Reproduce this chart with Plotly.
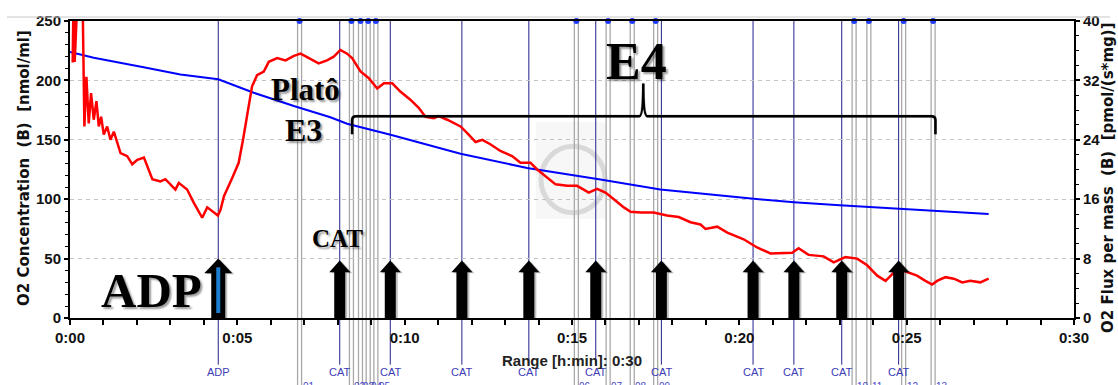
import plotly.graph_objects as go

# ---------------- data ----------------
red_t = [0.08, 0.11, 0.14, 0.19, 0.24, 0.37, 0.41, 0.43, 0.49, 0.56, 0.63, 0.71, 0.79, 0.86, 0.93,
         1.01, 1.11, 1.21, 1.31, 1.41, 1.51, 1.71, 1.86, 2.01, 2.21, 2.46, 2.70, 2.85, 3.15, 3.25,
         3.50, 3.70, 3.95, 4.10, 4.25, 4.42, 4.50, 4.60, 4.85, 5.04, 5.17, 5.29, 5.44, 5.59, 5.79,
         5.94, 6.19, 6.44, 6.69, 6.89, 7.14, 7.43, 7.68, 7.88, 8.08, 8.28, 8.43, 8.68, 8.93, 9.18,
         9.38, 9.63, 9.87, 10.17, 10.42, 10.62, 10.87, 11.02, 11.27, 11.67, 11.87, 12.12, 12.32,
         12.56, 12.86, 13.21, 13.46, 13.76, 13.96, 14.21, 14.51, 14.86, 15.15, 15.35, 15.50, 15.75,
         16.00, 16.25, 16.55, 16.75, 17.05, 17.44, 17.84, 18.19, 18.54, 18.84, 18.99, 19.34, 19.64,
         20.13, 20.53, 20.93, 21.33, 21.58, 21.77, 22.07, 22.52, 22.82, 23.17, 23.52, 23.82, 24.12,
         24.37, 24.57, 24.76, 25.01, 25.31, 25.56, 25.76, 25.91, 26.16, 26.41, 26.66, 26.90, 27.20,
         27.45]
red_flux = [34.4, 45, 34.5, 38.5, 45, 45, 33.8, 25.8, 32.5, 26.2, 30.3, 26.7, 29.2, 25.8, 27.1,
            24.7, 25.8, 24.0, 25.1, 23.6, 22.2, 21.8, 20.7, 21.3, 21.6, 18.7, 18.4, 18.7, 17.3, 18.2,
            17.3, 15.5, 13.5, 14.9, 14.4, 13.8, 14.6, 16.4, 18.9, 20.9, 24.0, 27.1, 31.2, 32.7, 33.2,
            34.5, 35.0, 34.7, 35.3, 35.6, 35.0, 34.3, 34.7, 35.2, 36.1, 35.6, 35.0, 33.2, 32.3, 30.9,
            31.6, 31.6, 30.5, 29.4, 28.3, 27.1, 26.9, 27.2, 26.7, 25.8, 24.9, 23.7, 24.0,
            23.4, 22.5, 21.8, 20.9, 20.9, 20.0, 19.1, 18.0, 17.8, 17.8, 17.3, 16.9, 17.4,
            16.9, 16.0, 14.9, 14.3, 14.2, 14.2, 13.8, 13.6, 12.9, 12.6, 12.0, 12.3, 11.5,
            10.6, 9.5, 8.7, 8.8, 8.8, 9.4, 8.5, 8.3, 7.5, 8.2, 8.0, 7.1, 5.7,
            5.0, 5.9, 6.6, 6.2, 5.7, 5.0, 4.5, 5.0, 5.5, 5.3, 4.8, 5.0, 4.8,
            5.3]

blue_t = [0.0, 0.71, 2.2, 3.3, 4.43, 5.49, 6.69, 7.78, 8.28, 9.58, 11.67, 13.66, 15.85, 17.64,
          20.43, 21.63, 23.0, 24.8, 26.2, 27.45]
blue_o2 = [224, 219, 211, 205, 201, 189.6, 178.4, 169, 163.5, 154.2, 138.3, 126.3, 116.5, 108.2,
           100.3, 97.5, 95, 92, 89.5, 87.5]

event_t = [4.43, 8.06, 9.57, 11.71, 13.71, 15.71, 17.67, 20.41, 21.63, 23.06, 24.76]
event_labels = ["ADP", "CAT", "CAT", "CAT", "CAT", "CAT", "CAT", "CAT", "CAT", "CAT", "CAT"]

mark_t = [6.86, 8.41, 8.68, 8.91, 9.14, 15.13, 16.08, 16.80, 17.50, 23.43, 23.87, 24.91, 25.79]
mark_labels = ["01", "02", "03", "04", "05", "06", "07", "08", "09", "10", "11", "12", "13"]

x_tickvals = [0, 5, 10, 15, 20, 25, 30]
x_ticktext = ["0:00", "0:05", "0:10", "0:15", "0:20", "0:25", "0:30"]
left_ticks = [0, 50, 100, 150, 200, 250]
right_ticks = [0, 8, 16, 24, 32, 40]

e4_start, e4_end, e4_peak = 8.43, 25.86, 17.13

# ---------------- geometry helpers ----------------
W, H = 1118, 385
ML, MR, MT, MB = 70, 44, 19, 67
PW = W - ML - MR
PH = H - MT - MB
XMAX, YMAX, Y2MAX = 30, 250, 40
DX = XMAX / PW      # minutes per pixel
DY = YMAX / PH      # left units per pixel


def pxx(x):
    return (x - ML) / PW


def pxy(y):
    return (H - MB - y) / PH


TICKFONT = dict(family="Liberation Sans, Arial", size=15, color="#111111", weight="bold")
SERIF = "Liberation Serif, Times New Roman, serif"

fig = go.Figure()

fig.add_trace(go.Scatter(x=blue_t, y=blue_o2, mode="lines", line=dict(color="#0000ff", width=2),
                         yaxis="y", showlegend=False, hoverinfo="skip"))
fig.add_trace(go.Scatter(x=red_t, y=red_flux, mode="lines", line=dict(color="#ff0000", width=2.5),
                         yaxis="y2", showlegend=False, hoverinfo="skip"))
fig.add_trace(go.Scatter(x=mark_t, y=[YMAX] * len(mark_t), mode="markers",
                         marker=dict(color="#1f3cff", size=6), cliponaxis=False,
                         yaxis="y", showlegend=False, hoverinfo="skip"))

shapes = []
annotations = []

# watermark
shapes.append(dict(type="rect", xref="paper", yref="paper", x0=pxx(536), x1=pxx(607),
                   y0=pxy(218), y1=pxy(121), fillcolor="#f7f7f7", line=dict(width=0), layer="below"))
shapes.append(dict(type="circle", xref="paper", yref="paper", x0=pxx(541), x1=pxx(605),
                   y0=pxy(212), y1=pxy(145), line=dict(color="#d9d9d9", width=5), layer="below"))

# gray double mark lines
for t in mark_t:
    for off in (-2, 2):
        shapes.append(dict(type="line", xref="x", yref="paper", x0=t + off * DX, x1=t + off * DX,
                           y0=1, y1=pxy(400), line=dict(color="#a9a9a9", width=1.3), layer="below"))
for t, lab in zip(mark_t, mark_labels):
    annotations.append(dict(x=t + DX, y=pxy(387), xref="x", yref="paper", text=lab, showarrow=False,
                            xanchor="left", yanchor="middle",
                            font=dict(family="Liberation Sans, Arial", size=10, color="#4646c8")))

# navy event lines + labels
for t, lab in zip(event_t, event_labels):
    shapes.append(dict(type="line", xref="x", yref="paper", x0=t, x1=t, y0=1, y1=pxy(365),
                       line=dict(color="#20208c", width=1), layer="below"))
    annotations.append(dict(x=t, y=pxy(372), xref="x", yref="paper", text=lab, showarrow=False,
                            xanchor="center", yanchor="middle",
                            font=dict(family="Liberation Sans Narrow, Liberation Sans, Arial", size=11,
                                      color="#3c3cb4")))


# arrows
def arrow_path(t, tip, head_len, head_half, shaft_half, ox=0.0, oy=0.0):
    yt = tip * DY + oy * DY
    yb = (tip - head_len) * DY + oy * DY
    y0 = 0 + oy * DY
    a = t + ox * DX
    pts = [(a - shaft_half * DX, y0), (a - shaft_half * DX, yb), (a - head_half * DX, yb), (a, yt),
           (a + head_half * DX, yb), (a + shaft_half * DX, yb), (a + shaft_half * DX, y0)]
    return "M " + " L ".join(f"{x:.4f},{y:.4f}" for x, y in pts) + " Z"


for t, lab in zip(event_t, event_labels):
    if lab == "ADP":
        geo = (60, 15, 14, 7)
    else:
        geo = (58, 12, 10.5, 5.5)
    shapes.append(dict(type="path", xref="x", yref="y", path=arrow_path(t, *geo, ox=2, oy=-1),
                       fillcolor="rgba(0,0,0,0.25)", line=dict(width=0), layer="above"))
    shapes.append(dict(type="path", xref="x", yref="y", path=arrow_path(t, *geo),
                       fillcolor="#000000", line=dict(width=0), layer="above"))
    if lab == "ADP":
        shapes.append(dict(type="line", xref="x", yref="y", x0=t, x1=t, y0=5 * DY, y1=51 * DY,
                           line=dict(color="#1e7fd2", width=4), layer="above"))

# E4 bracket
yh = (H - MB - 115) * DY
yb = (H - MB - 133) * DY
yp = (H - MB - 82) * DY
r = 4
bracket = (f"M {e4_start},{yb} L {e4_start},{yh - r * DY} Q {e4_start},{yh} {e4_start + r * DX},{yh} "
           f"L {e4_peak - 4 * DX},{yh} Q {e4_peak},{yh} {e4_peak},{yp} "
           f"Q {e4_peak},{yh} {e4_peak + 4 * DX},{yh} L {e4_end - r * DX},{yh} "
           f"Q {e4_end},{yh} {e4_end},{yh - r * DY} L {e4_end},{yb}")
shapes.append(dict(type="path", xref="x", yref="y", path=bracket,
                   line=dict(color="rgba(0,0,0,0.25)", width=3), layer="above"))
shapes.append(dict(type="path", xref="x", yref="y", path=bracket,
                   line=dict(color="#000000", width=2.5), layer="above"))

# top frame line
shapes.append(dict(type="line", xref="paper", yref="paper", x0=pxx(7), x1=pxx(1110),
                   y0=pxy(15), y1=pxy(15), line=dict(color="#c8c8c8", width=1)))

SHADOW = "2px 2px 2px rgba(0,0,0,0.4)"
big = [("ADP", 151.7, 290, 49), ("Platô", 305, 87.5, 31), ("E3", 303, 129, 32),
       ("CAT", 337, 238, 25), ("E4", 636.5, 60, 52)]
for txt, x, y, s in big:
    annotations.append(dict(x=pxx(x), y=pxy(y), xref="paper", yref="paper", text=txt, showarrow=False,
                            xanchor="center", yanchor="middle",
                            font=dict(family=SERIF, size=s, color="#000000", weight="bold",
                                      shadow=SHADOW)))

annotations.append(dict(x=pxx(571.5), y=pxy(361), xref="paper", yref="paper",
                        text="Range [h:min]: 0:30", showarrow=False, xanchor="center", yanchor="middle",
                        font=dict(family="Liberation Sans, Arial", size=15, color="#222222", weight="bold")))
annotations.append(dict(x=pxx(24), y=pxy(167), xref="paper", yref="paper",
                        text="O2 Concentration  (B)  [nmol/ml]", showarrow=False, textangle=-90,
                        xanchor="center", yanchor="middle",
                        font=dict(family="DejaVu Sans, Liberation Sans", size=15, color="#111111",
                                  weight="bold")))
annotations.append(dict(x=pxx(1108), y=pxy(335), xref="paper", yref="paper",
                        text="O2 Flux per mass  (B)  [pmol/(s*mg)]", showarrow=False, textangle=-90,
                        xanchor="center", yanchor="bottom",
                        font=dict(family="DejaVu Sans, Liberation Sans", size=15, color="#111111",
                                  weight="bold")))

fig.update_layout(
    width=W, height=H,
    margin=dict(l=ML, r=MR, t=MT, b=MB, pad=0),
    paper_bgcolor="white", plot_bgcolor="white",
    showlegend=False,
    shapes=shapes, annotations=annotations,
    xaxis=dict(range=[0, XMAX], tickvals=x_tickvals, ticktext=x_ticktext, ticks="outside", ticklen=5,
               tickwidth=1.5, tickcolor="#000", showline=True, linewidth=2, linecolor="#000",
               mirror=True, showgrid=False, zeroline=False, tickfont=TICKFONT,
               minor=dict(dtick=1, ticks="outside", ticklen=5, tickwidth=1.5, tickcolor="#000")),
    yaxis=dict(range=[0, YMAX], tickvals=left_ticks, ticks="outside", ticklen=4, tickwidth=1.5,
               tickcolor="#000", showline=True, linewidth=2, linecolor="#000", showgrid=True,
               gridcolor="#c4c4c4", griddash="4px,4px", gridwidth=1, zeroline=False, tickfont=TICKFONT,
               minor=dict(dtick=10, ticks="outside", ticklen=3, tickwidth=1.2, tickcolor="#000")),
    yaxis2=dict(range=[0, Y2MAX], tickvals=right_ticks, overlaying="y", side="right", ticks="outside",
                ticklen=4, tickwidth=1.5, tickcolor="#000", showline=True, linewidth=2, linecolor="#000",
                showgrid=False, zeroline=False, tickfont=TICKFONT,
                minor=dict(dtick=2, ticks="outside", ticklen=3, tickwidth=1.2, tickcolor="#000")),
)

fig.write_html("out.html")
